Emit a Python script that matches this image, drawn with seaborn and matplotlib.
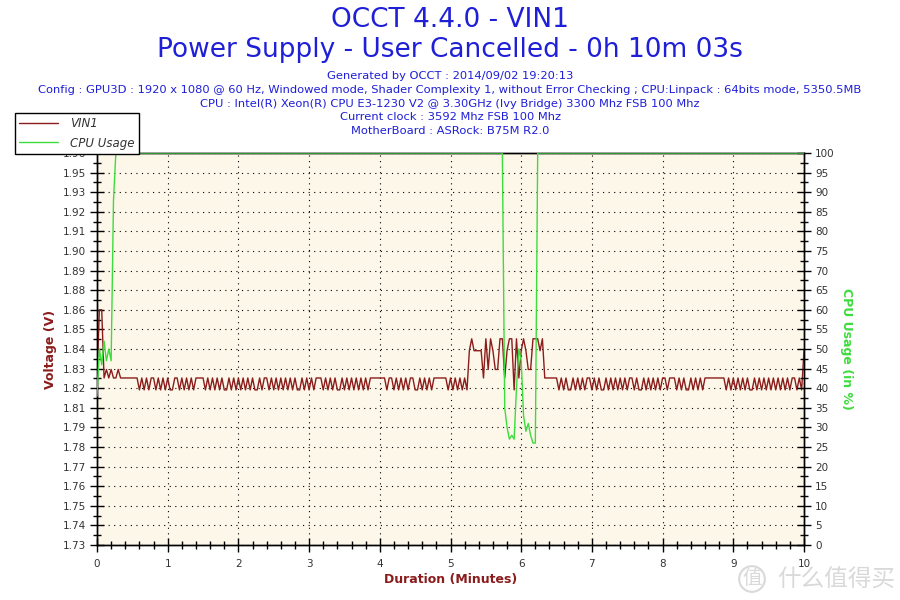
import numpy as np
import pandas as pd
import matplotlib.pyplot as plt
import matplotlib.lines as mlines
from matplotlib.ticker import FixedLocator, MultipleLocator, FixedFormatter
import seaborn as sns

# Datos (una muestra cada 2 s)
SAMPLE_SEC = 2

# Niveles de tension (V) codificados con una letra
vin1_levels = {'a': 1.821, 'b': 1.828, 'c': 1.833, 'd': 1.844, 'e': 1.851, 'f': 1.868}

vin1_code = (
    "bffbcbcbbcbbbbbbbb"
    "abababbaba" "babaabbaba" "bababbbbab" "abababaaba" "bababababa"
    "ababbababa" "babababaab" "abababbbab" "ababaababa" "bababababb"
    "bbbbbabbab" "abababbaab" "abababbbbb" "bababababa"
    "deddddbecedcceebdeeaebdedcceeedeb"
    "bbbbbababa" "ababababba" "babaababab" "abababbaba" "ababababab"
    "babbbababa" "ababababbb" "bbbbbbabab" "abababaaba" "bababababa"
    "bababbaba"
    "d"
)

cpu_usage = ([38, 50, 46, 52, 47, 50, 47, 88]
             + [100] * 165
             + [35, 30, 27, 28, 27, 40, 50, 47, 33, 29, 31, 28, 26, 26]
             + [100] * 114)

volt_ticklabels = ['1.73', '1.74', '1.75', '1.76', '1.77', '1.78', '1.79', '1.81',
                   '1.82', '1.83', '1.84', '1.85', '1.86', '1.88', '1.89', '1.90',
                   '1.91', '1.92', '1.93', '1.95', '1.96']

df = pd.DataFrame({
    'minutes': np.arange(len(vin1_code)) * SAMPLE_SEC / 60,
    'vin1': [vin1_levels[c] for c in vin1_code],
    'cpu': cpu_usage,
})

# Colores
azul = '#1f1fd8'
rojo = '#8b1c1c'
verde = '#3ddc3d'
gris_txt = '#333333'

sns.set_theme(style='white')
plt.rcParams['font.family'] = ['DejaVu Sans']

fig = plt.figure(figsize=(9, 6), dpi=100)
fig.patch.set_facecolor('white')
ax = fig.add_axes([97 / 900, 55 / 600, 707 / 900, 392 / 600])
ax.set_facecolor('#fdf7e9')
ax2 = ax.twinx()

sns.lineplot(data=df, x='minutes', y='vin1', ax=ax, color=rojo, linewidth=1, zorder=3)
sns.lineplot(data=df, x='minutes', y='cpu', ax=ax2, color=verde, linewidth=1, zorder=3)

ax.set_xlim(0, 10)
ax.set_ylim(1.73, 1.96)
ax2.set_ylim(0, 100)

# Ejes y marcas
ax.xaxis.set_major_locator(MultipleLocator(1))
ax.xaxis.set_minor_locator(MultipleLocator(0.2))
vt = np.linspace(1.73, 1.96, 21)
ax.yaxis.set_major_locator(FixedLocator(vt))
ax.yaxis.set_major_formatter(FixedFormatter(volt_ticklabels))
ax.yaxis.set_minor_locator(FixedLocator((vt[:-1] + vt[1:]) / 2))
ax2.yaxis.set_major_locator(MultipleLocator(5))
ax2.yaxis.set_minor_locator(MultipleLocator(2.5))

for a in (ax, ax2):
    a.tick_params(which='major', direction='inout', length=10, width=1, color='black',
                  labelsize=7.5, labelcolor=gris_txt, pad=3)
    a.tick_params(which='minor', direction='inout', length=6, width=1, color='black')
    for s in a.spines.values():
        s.set_color('black')
        s.set_linewidth(1)
ax.tick_params(axis='x', pad=5)
ax.tick_params(axis='y', left=True, right=False)
ax2.tick_params(axis='y', right=True, left=False)
ax.tick_params(axis='x', bottom=True, which='both')

# Rejilla punteada
ax.grid(True, which='major', color='black', linestyle=(0, (1, 4)), linewidth=0.8)
ax.set_axisbelow(True)

ax.set_xlabel('Duration (Minutes)', color=rojo, fontsize=9, fontweight='bold', labelpad=3)
ax.set_ylabel('Voltage (V)', color=rojo, fontsize=9, fontweight='bold', labelpad=4)
ax2.set_ylabel('CPU Usage (in %)', color=verde, fontsize=9, fontweight='bold',
               rotation=-90, labelpad=13)

# Titulos
fig.text(0.5, 1 - 20 / 600, 'OCCT 4.4.0 - VIN1', ha='center', va='center',
         color=azul, fontsize=19)
fig.text(0.5, 1 - 50 / 600, 'Power Supply - User Cancelled - 0h 10m 03s', ha='center',
         va='center', color=azul, fontsize=19)
lineas = [
    'Generated by OCCT : 2014/09/02 19:20:13',
    'Config : GPU3D : 1920 x 1080 @ 60 Hz, Windowed mode, Shader Complexity 1, without Error Checking ; CPU:Linpack : 64bits mode, 5350.5MB',
    'CPU : Intel(R) Xeon(R) CPU E3-1230 V2 @ 3.30GHz (Ivy Bridge) 3300 Mhz FSB 100 Mhz',
    'Current clock : 3592 Mhz FSB 100 Mhz',
    'MotherBoard : ASRock: B75M R2.0',
]
for i, txt in enumerate(lineas):
    fig.text(0.5, 1 - (76 + i * 13.8) / 600, txt, ha='center', va='center',
             color=azul, fontsize=8.25)

# Leyenda
h_vin = mlines.Line2D([], [], color=rojo, linewidth=1, label='VIN1')
h_cpu = mlines.Line2D([], [], color=verde, linewidth=1, label='CPU Usage')
leg = fig.legend(handles=[h_vin, h_cpu], loc='upper left',
                 bbox_to_anchor=(15 / 900, 1 - 113 / 600), borderaxespad=0,
                 fancybox=False, edgecolor='black', framealpha=1,
                 prop={'style': 'italic', 'size': 8.5}, handlelength=3.3,
                 labelspacing=0.55, borderpad=0.35, handletextpad=1.0)
leg.get_frame().set_linewidth(1)
for t in leg.get_texts():
    t.set_color(gris_txt)

# Marca de agua
fig.text(752 / 900, 1 - 579 / 600, '值', ha='center', va='center', color='#d9d9d9',
         fontsize=14, family=['Noto Sans CJK SC'],
         bbox=dict(boxstyle='circle,pad=0.12', fc='none', ec='#d9d9d9', lw=1.5))
fig.text(836 / 900, 1 - 580 / 600, '什么值得买', ha='center', va='center',
         color='#d9d9d9', fontsize=17, family=['Noto Sans CJK SC'])

fig.savefig('out.png', dpi=100)
